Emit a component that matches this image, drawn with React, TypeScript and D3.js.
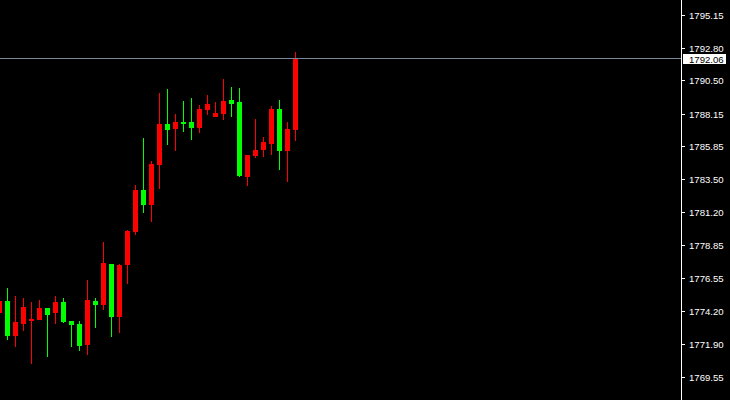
import React from "react";
import * as d3 from "d3";

const opens = [1774.12, 1774.96, 1772.49, 1773.34, 1773.55, 1773.62, 1774.47, 1774.12, 1774.89, 1773.55, 1773.34, 1771.86, 1774.96, 1774.68, 1777.58, 1773.83, 1777.50, 1779.83, 1782.80, 1781.74, 1784.56, 1787.46, 1787.10, 1787.60, 1787.60, 1787.17, 1788.44, 1787.95, 1788.16, 1789.15, 1789.01, 1783.72, 1785.20, 1785.62, 1786.05, 1788.52, 1785.55, 1787.03];
const highs = [1775.25, 1775.88, 1775.32, 1775.18, 1774.89, 1775.03, 1774.47, 1775.32, 1775.18, 1773.55, 1773.55, 1776.45, 1775.18, 1779.13, 1777.58, 1777.58, 1779.97, 1783.15, 1786.47, 1784.85, 1789.64, 1789.93, 1788.16, 1789.08, 1789.29, 1788.80, 1789.50, 1789.01, 1790.63, 1790.07, 1790.00, 1785.27, 1787.81, 1786.54, 1788.73, 1789.15, 1787.60, 1792.54];
const lows = [1773.90, 1772.21, 1771.72, 1772.85, 1770.52, 1773.62, 1771.01, 1773.34, 1773.41, 1771.72, 1771.43, 1771.15, 1773.06, 1774.33, 1772.42, 1772.70, 1776.16, 1779.62, 1781.18, 1780.54, 1782.87, 1785.97, 1785.55, 1786.89, 1786.33, 1786.82, 1788.09, 1787.95, 1787.74, 1787.95, 1783.72, 1783.08, 1785.06, 1785.13, 1785.27, 1784.21, 1783.36, 1786.26];
const closes = [1774.96, 1772.49, 1773.48, 1774.54, 1773.69, 1774.47, 1773.98, 1774.89, 1773.48, 1773.27, 1771.79, 1775.03, 1774.68, 1777.65, 1773.83, 1777.50, 1779.90, 1782.80, 1781.74, 1784.63, 1787.46, 1787.03, 1787.60, 1787.46, 1787.17, 1788.52, 1788.87, 1788.23, 1789.08, 1788.87, 1783.79, 1785.27, 1785.62, 1786.19, 1788.52, 1785.55, 1787.10, 1792.06];
const tickLabels = ["1795.15", "1792.80", "1790.50", "1788.15", "1785.85", "1783.50", "1781.20", "1778.85", "1776.55", "1774.20", "1771.90", "1769.55"];
const lastPrice = 1792.06;

const W = 730;
const H = 400;
const AXIS_X = 681;

export default function App() {
  const y = d3.scaleLinear().domain([1769.55, 1795.15]).range([377.5, 15]);
  const x = d3.scaleLinear().domain([0, 1]).range([-0.5, 7.5]);
  const crisp = (v: number) => Math.round(v);
  const priceY = Math.floor(y(lastPrice));

  return (
    <svg
      width={W}
      height={H}
      style={{ position: "absolute", left: 0, top: 0, background: "#000" }}
      shapeRendering="crispEdges"
    >
      <rect x={0} y={0} width={W} height={H} fill="#000" />
      {opens.map((o, i) => {
        const c = closes[i];
        const up = c >= o;
        const col = up ? "#ff0000" : "#00ff00";
        const cx = x(i);
        const yTop = crisp(y(Math.max(o, c)));
        const yBot = crisp(y(Math.min(o, c)));
        const yH = crisp(y(highs[i]));
        const yL = crisp(y(lows[i]));
        return (
          <g key={i}>
            <rect x={cx - 0.5} y={yH} width={1} height={Math.max(1, yL - yH)} fill={col} />
            <rect x={cx - 2.5} y={yTop} width={5} height={Math.max(1, yBot - yTop)} fill={col} />
          </g>
        );
      })}
      <rect x={0} y={priceY} width={AXIS_X} height={1} fill="#778899" />
      <rect x={AXIS_X} y={0} width={1} height={H} fill="#ffffff" />
      {tickLabels.map((t) => {
        const ty = Math.floor(y(+t));
        return (
          <g key={t}>
            <rect x={AXIS_X + 1} y={ty} width={3} height={1} fill="#ffffff" />
            <text
              x={689}
              y={ty + 0.5}
              dominantBaseline="central"
              fill="#ffffff"
              fontFamily="Liberation Sans, Arial, sans-serif"
              fontSize={9.6}
            >
              {t}
            </text>
          </g>
        );
      })}
      <rect x={683} y={priceY - 4} width={43} height={10} fill="#ffffff" />
      <text
        x={689}
        y={priceY + 1}
        dominantBaseline="central"
        fill="#000000"
        fontFamily="Liberation Sans, Arial, sans-serif"
        fontSize={9.6}
      >
        {lastPrice.toFixed(2)}
      </text>
    </svg>
  );
}
